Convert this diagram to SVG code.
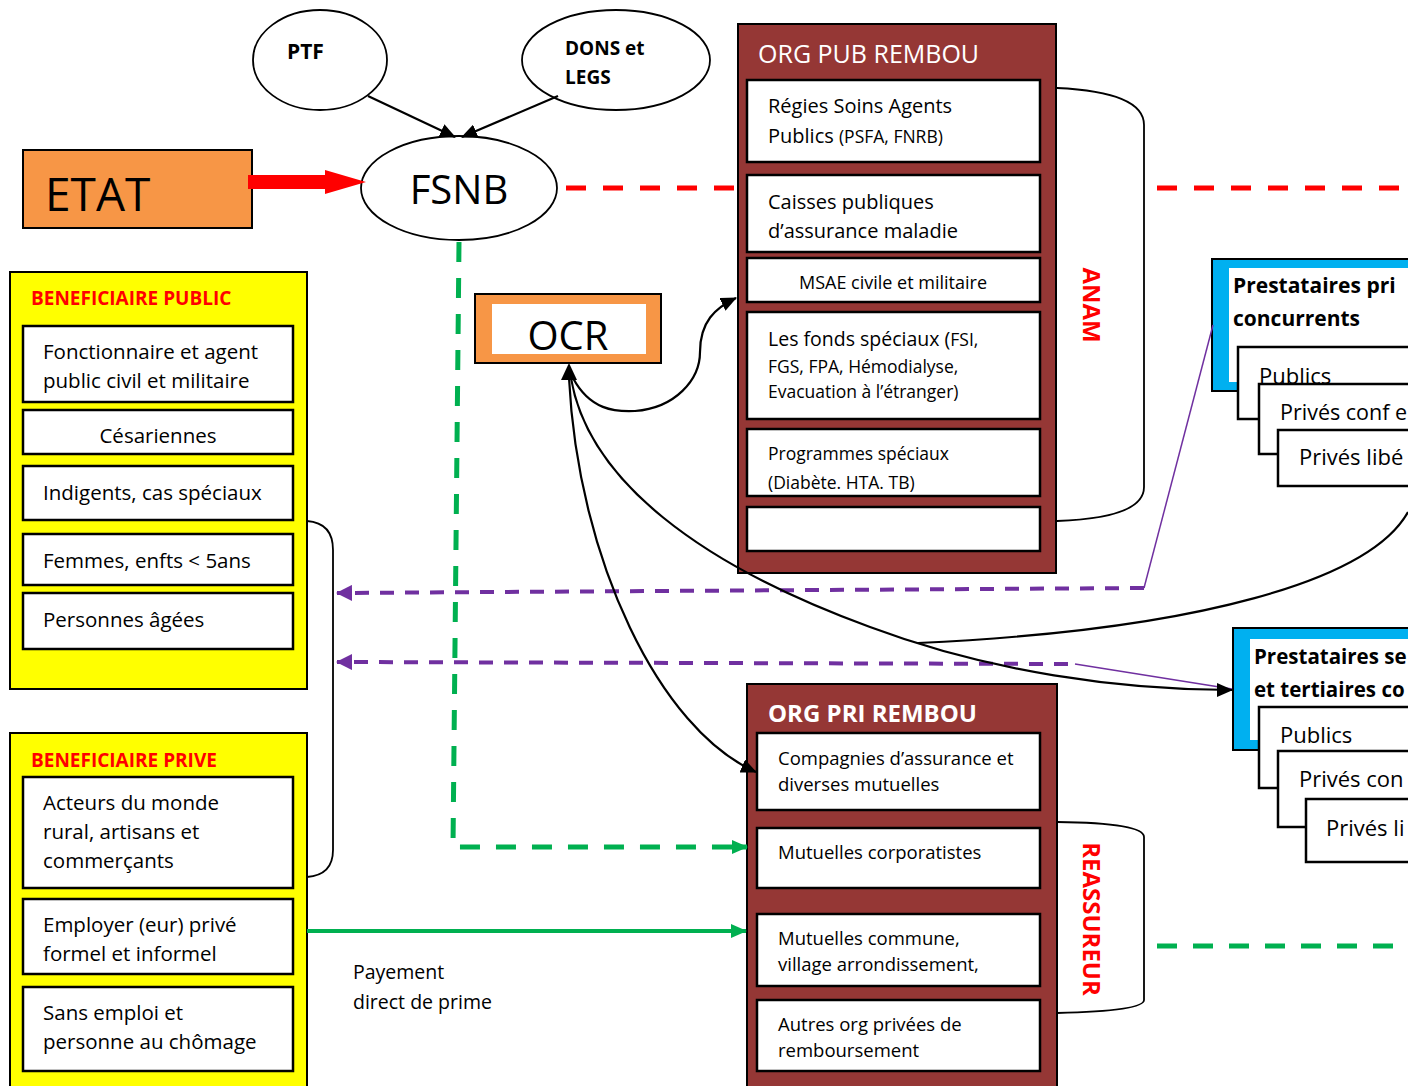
<svg xmlns="http://www.w3.org/2000/svg" width="1408" height="1086" viewBox="0 0 1408 1086">
<style>
text{font-family:"Open Sans","Noto Sans","DejaVu Sans",sans-serif;fill:#000}
.b{font-weight:bold}
.w{fill:#fff}
.red{fill:#FF0000}
.box{fill:#fff;stroke:#000;stroke-width:2.5}
.ybox{fill:#FFFF00;stroke:#000;stroke-width:2}
.org{fill:#953735;stroke:#000;stroke-width:2}
.ell{fill:#fff;stroke:#000;stroke-width:1.8}
.orange{fill:#F79646;stroke:#000;stroke-width:2}
.cyan{fill:#00B0F0;stroke:#000;stroke-width:2}
.brace{fill:none;stroke:#000;stroke-width:1.8}
.blk{fill:none;stroke:#000;stroke-width:2.2}
.pdash{fill:none;stroke:#7030A0;stroke-width:4;stroke-dasharray:14 11}
.pthin{fill:none;stroke:#7030A0;stroke-width:1.5}
.gdash{fill:none;stroke:#00B050;stroke-width:5;stroke-dasharray:20 16}
.rdash{fill:none;stroke:#FF0000;stroke-width:5;stroke-dasharray:20 17}
</style>
<defs>
<marker id="ab" markerUnits="userSpaceOnUse" markerWidth="16" markerHeight="14" refX="15" refY="7" orient="auto" viewBox="0 0 16 14"><path d="M0,0 L16,7 L0,14 Z" fill="#000"/></marker>
<marker id="ap" markerUnits="userSpaceOnUse" markerWidth="16" markerHeight="16" refX="15" refY="8" orient="auto" viewBox="0 0 16 16"><path d="M0,0 L16,8 L0,16 Z" fill="#7030A0"/></marker>
<marker id="ag" markerUnits="userSpaceOnUse" markerWidth="16" markerHeight="16" refX="15" refY="8" orient="auto" viewBox="0 0 16 16"><path d="M0,1 L16,8 L0,15 Z" fill="#00B050"/></marker>
</defs>
<rect width="1408" height="1086" fill="#fff"/>

<g id="beneficiaire-public">
<rect class="ybox" x="10" y="272" width="297" height="417"/>
<text class="b red" x="31" y="305" font-size="19">BENEFICIAIRE PUBLIC</text>
<rect class="box" x="23" y="326" width="270" height="76"/>
<text x="43" y="359" font-size="20.5">Fonctionnaire  et agent</text>
<text x="43" y="388" font-size="20.5">public civil et militaire</text>
<rect class="box" x="23" y="410" width="270" height="44"/>
<text x="158" y="443" font-size="20.5" text-anchor="middle">Césariennes</text>
<rect class="box" x="23" y="466" width="270" height="54"/>
<text x="43" y="500" font-size="20.5">Indigents, cas spéciaux</text>
<rect class="box" x="23" y="534" width="270" height="51"/>
<text x="43" y="568" font-size="20.5">Femmes, enfts &lt; 5ans</text>
<rect class="box" x="23" y="593" width="270" height="56"/>
<text x="43" y="627" font-size="20.5">Personnes âgées</text>
</g>

<g id="beneficiaire-prive">
<rect class="ybox" x="10" y="733" width="297" height="360"/>
<text class="b red" x="31" y="767" font-size="19">BENEFICIAIRE PRIVE</text>
<rect class="box" x="23" y="777" width="270" height="111"/>
<text x="43" y="810" font-size="20.5">Acteurs du monde</text>
<text x="43" y="839" font-size="20.5">rural, artisans et</text>
<text x="43" y="868" font-size="20.5">commerçants</text>
<rect class="box" x="23" y="899" width="270" height="75"/>
<text x="43" y="932" font-size="20.5">Employer (eur) privé</text>
<text x="43" y="961" font-size="20.5">formel et informel</text>
<rect class="box" x="23" y="987" width="270" height="84"/>
<text x="43" y="1020" font-size="20.5">Sans emploi et</text>
<text x="43" y="1049" font-size="20.5">personne au chômage</text>
</g>

<g id="beneficiaire-brace">
<path class="brace" d="M307,521 Q333,523 333,550 L333,850 Q333,875 307,877"/>
</g>

<g id="etat">
<rect class="orange" x="23" y="150" width="229" height="78"/>
<text x="45" y="211" font-size="46">ETAT</text>
</g>

<g id="ptf">
<ellipse class="ell" cx="320" cy="60" rx="67" ry="50"/>
<text class="b" x="287" y="59" font-size="21">PTF</text>
</g>

<g id="dons">
<ellipse class="ell" cx="616" cy="60" rx="94" ry="50"/>
<text class="b" x="565" y="55" font-size="19">DONS et</text>
<text class="b" x="565" y="84" font-size="19">LEGS</text>
</g>

<g id="fsnb">
<ellipse class="ell" cx="459" cy="188" rx="98" ry="52"/>
<text x="459" y="204" font-size="40" text-anchor="middle">FSNB</text>
</g>

<g id="ocr">
<rect class="orange" x="475" y="294" width="186" height="69"/>
<rect x="492" y="304" width="154" height="50" fill="#fff"/>
<text x="568" y="350" font-size="40" text-anchor="middle">OCR</text>
</g>

<g id="org-pub-rembou">
<rect class="org" x="738" y="24" width="318" height="549"/>
<text class="w" x="758" y="63" font-size="25">ORG PUB REMBOU</text>
<rect class="box" x="747" y="80" width="293" height="82"/>
<text x="768" y="113" font-size="20">Régies Soins Agents</text>
<text x="768" y="143" font-size="20">Publics <tspan font-size="17.5">(PSFA, FNRB)</tspan></text>
<rect class="box" x="747" y="175" width="293" height="77"/>
<text x="768" y="209" font-size="20">Caisses publiques</text>
<text x="768" y="238" font-size="20">d’assurance maladie</text>
<rect class="box" x="747" y="258" width="293" height="44"/>
<text x="893" y="289" font-size="18" text-anchor="middle">MSAE civile et militaire</text>
<rect class="box" x="747" y="312" width="293" height="107"/>
<text x="768" y="346" font-size="19.5">Les fonds spéciaux (<tspan font-size="17.5">FSI,</tspan></text>
<text x="768" y="373" font-size="17.5">FGS, FPA, Hémodialyse,</text>
<text x="768" y="398" font-size="17.5">Evacuation à l’étranger)</text>
<rect class="box" x="747" y="429" width="293" height="67"/>
<text x="768" y="460" font-size="17.5">Programmes  spéciaux</text>
<text x="768" y="489" font-size="17.5">(Diabète. HTA. TB)</text>
<rect class="box" x="747" y="507" width="293" height="44"/>
</g>

<g id="anam">
<path class="brace" d="M1057,88 Q1144,92 1144,125 L1144,487 Q1144,518 1057,521"/>
<text class="b red" transform="translate(1083,305) rotate(90)" font-size="24" text-anchor="middle">ANAM</text>
</g>

<g id="org-pri-rembou">
<rect class="org" x="747" y="684" width="310" height="410"/>
<text class="b w" x="768" y="722" font-size="24">ORG PRI REMBOU</text>
<rect class="box" x="757" y="733" width="283" height="77"/>
<text x="778" y="765" font-size="18.5">Compagnies d’assurance et</text>
<text x="778" y="791" font-size="18.5">diverses mutuelles</text>
<rect class="box" x="757" y="828" width="283" height="60"/>
<text x="778" y="859" font-size="18.5">Mutuelles corporatistes</text>
<rect class="box" x="757" y="914" width="283" height="72"/>
<text x="778" y="945" font-size="18.5">Mutuelles commune,</text>
<text x="778" y="971" font-size="18.5">village arrondissement,</text>
<rect class="box" x="757" y="1000" width="283" height="71"/>
<text x="778" y="1031" font-size="18.5">Autres org privées  de</text>
<text x="778" y="1057" font-size="18.5">remboursement</text>
</g>

<g id="reassureur">
<path class="brace" d="M1057,822 Q1144,823 1144,837 L1144,1000 Q1144,1011 1057,1013"/>
<text class="b red" transform="translate(1083,919) rotate(90)" font-size="24" text-anchor="middle">REASSUREUR</text>
</g>

<g id="prestataires-primaires">
<rect class="cyan" x="1212" y="259" width="210" height="132"/>
<rect x="1229" y="268" width="193" height="114" fill="#fff"/>
<text class="b" x="1233" y="293" font-size="21">Prestataires pri</text>
<text class="b" x="1233" y="326" font-size="21">concurrents</text>
<rect class="box" x="1238" y="347" width="184" height="72"/>
<text x="1259" y="384" font-size="22">Publics</text>
<rect class="box" x="1259" y="384" width="163" height="70"/>
<text x="1280" y="420" font-size="21.5">Privés conf e</text>
<rect class="box" x="1278" y="430" width="144" height="56"/>
<text x="1299" y="465" font-size="22">Privés libé</text>
</g>

<g id="prestataires-secondaires">
<rect class="cyan" x="1233" y="628" width="190" height="122"/>
<rect x="1250" y="639" width="173" height="101" fill="#fff"/>
<text class="b" x="1254" y="664" font-size="20.5">Prestataires se</text>
<text class="b" x="1254" y="697" font-size="20.5">et tertiaires co</text>
<rect class="box" x="1259" y="707" width="163" height="81"/>
<text x="1280" y="743" font-size="22">Publics</text>
<rect class="box" x="1278" y="751" width="144" height="76"/>
<text x="1299" y="787" font-size="22">Privés con</text>
<rect class="box" x="1306" y="799" width="116" height="63"/>
<text x="1326" y="836" font-size="22">Privés li</text>
</g>

<g id="payement-label">
<text x="353" y="979" font-size="19.5">Payement</text>
<text x="353" y="1009" font-size="19.5">direct de prime</text>
</g>

<g id="connectors">
<path d="M248,175 L325,175 L325,170 L366,182 L325,194 L325,189 L248,189 Z" fill="#FF0000"/>
<line class="blk" x1="368" y1="96" x2="455" y2="137" marker-end="url(#ab)"/>
<line class="blk" x1="558" y1="96" x2="462" y2="137" marker-end="url(#ab)"/>
<line class="rdash" x1="566" y1="188" x2="736" y2="188"/>
<line class="rdash" x1="1157" y1="188" x2="1408" y2="188"/>
<path class="gdash" d="M459,242 L453,847 L728,847"/>
<line x1="728" y1="847" x2="747" y2="847" stroke="#00B050" stroke-width="5" marker-end="url(#ag)"/>
<line x1="307" y1="931" x2="746" y2="931" stroke="#00B050" stroke-width="4" marker-end="url(#ag)"/>
<line class="gdash" x1="1157" y1="946" x2="1408" y2="946"/>
<path class="pdash" d="M1144,588 L337,593" marker-end="url(#ap)"/>
<path class="pthin" d="M1144,588 L1213,325"/>
<path class="pdash" d="M1068,664 L337,662" marker-end="url(#ap)"/>
<path class="pthin" d="M1075,664 L1232,689"/>
<path class="blk" d="M573,378 C590,410 615,412 635,411 C675,408 700,380 700,352 C700,322 715,308 736,298" marker-end="url(#ab)"/>
<path class="blk" d="M569,378 C578,560 660,730 756,772" marker-end="url(#ab)"/>
<path class="blk" d="M571,378 C588,480 700,565 870,627 C990,672 1120,690 1232,690" marker-end="url(#ab)"/>
<path class="blk" d="M1408,512 C1370,580 1200,630 918,643"/>
<path d="M569,363 L577,380 L561,380 Z" fill="#000"/>
</g>
</svg>
